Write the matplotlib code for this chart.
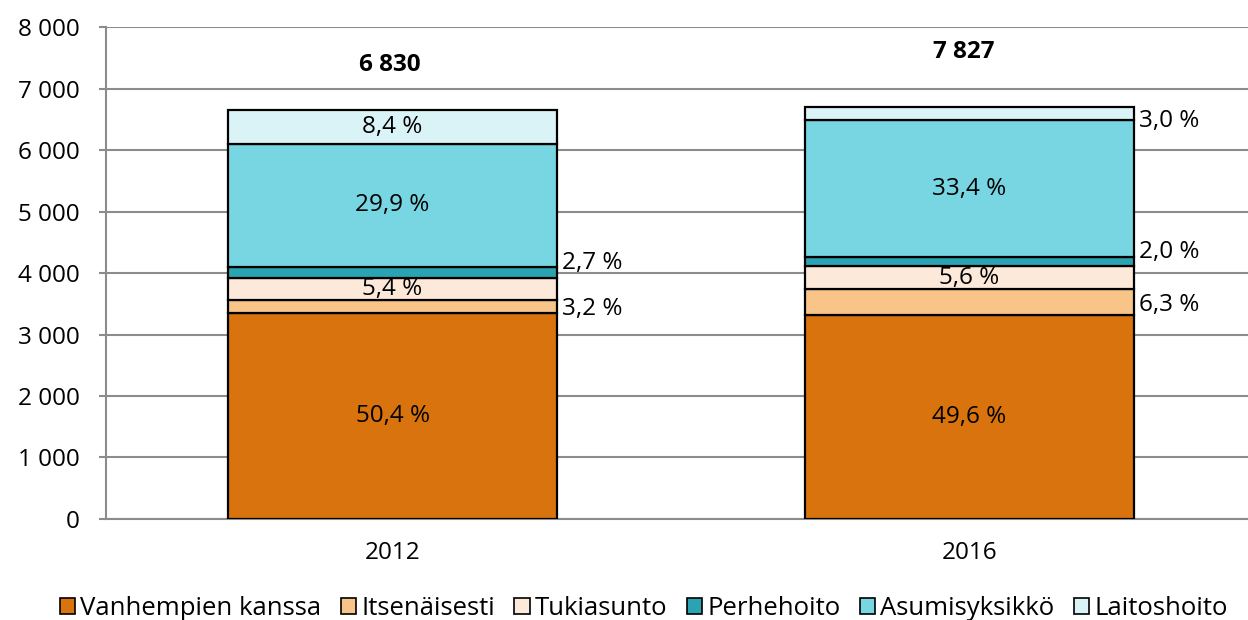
import matplotlib
matplotlib.use("Agg")
import matplotlib.pyplot as plt
from matplotlib.ticker import FuncFormatter, MultipleLocator
from matplotlib.patches import Patch
import numpy as np

plt.rcParams["font.family"] = ["Open Sans", "DejaVu Sans"]

years = ["2012", "2016"]
series = ["Vanhempien kanssa", "Itsenäisesti", "Tukiasunto", "Perhehoito",
          "Asumisyksikkö", "Laitoshoito"]
vanhempien = [3352, 3315]
itsenaisesti = [212, 420]
tukiasunto = [362, 378]
perhehoito = [175, 146]
asumisyksikko = [2000, 2232]
laitoshoito = [549, 210]
pct_2012 = ["50,4 %", "3,2 %", "5,4 %", "2,7 %", "29,9 %", "8,4 %"]
pct_2016 = ["49,6 %", "6,3 %", "5,6 %", "2,0 %", "33,4 %", "3,0 %"]
totals = ["6 830", "7 827"]

colors = ["#D9730D", "#F8C488", "#FDE9D9", "#2AA3B3", "#78D6E3", "#DAF3F6"]
# label placement: True = inside bar, False = right of bar
inside_2012 = [True, False, True, False, True, True]
inside_2016 = [True, False, True, False, True, False]
outer_shift = [0, -40, 0, 150, 0, -120]

data = [vanhempien, itsenaisesti, tukiasunto, perhehoito, asumisyksikko, laitoshoito]

fig = plt.figure(figsize=(12.48, 6.2), dpi=100)
ax = fig.add_axes([0.085, 0.163, 0.915, 0.793])

x = np.arange(len(years))
width = 0.57
fs = 17.5
bottom = np.zeros(len(years))
for i, vals in enumerate(data):
    vals = np.array(vals, dtype=float)
    ax.bar(x, vals, width, bottom=bottom, color=colors[i], edgecolor="black",
           linewidth=1.6, zorder=3)
    for j in range(len(years)):
        lab = [pct_2012, pct_2016][j][i]
        ins = [inside_2012, inside_2016][j][i]
        yc = bottom[j] + vals[j] / 2
        if ins:
            ax.text(x[j], yc, lab, ha="center", va="center", fontsize=fs,
                    zorder=4)
        else:
            ax.text(x[j] + width / 2 + 0.008, yc + outer_shift[i], lab,
                    ha="left", va="center", fontsize=fs, zorder=4)
    bottom += vals

ax.text(-0.005, 7380, totals[0], ha="center", va="center", fontsize=fs,
        fontweight="bold")
ax.text(0.99, 7590, totals[1], ha="center", va="center", fontsize=fs,
        fontweight="bold")

ax.set_xlim(-0.4965, 1.4825)
ax.set_ylim(0, 8000)
ax.yaxis.set_major_locator(MultipleLocator(1000))
ax.yaxis.set_major_formatter(FuncFormatter(lambda v, p: f"{int(v):,}".replace(",", " ")))
ax.set_xticks(x)
ax.set_xticklabels(years)
ax.tick_params(axis="x", length=0, pad=16, labelsize=fs)
ax.tick_params(axis="y", length=5, width=1.5, color="#8C8C8C", pad=14,
               labelsize=fs)
ax.grid(axis="y", color="#8C8C8C", linewidth=1.5, zorder=0)
for s in ["top", "right"]:
    ax.spines[s].set_visible(False)
for s in ["left", "bottom"]:
    ax.spines[s].set_color("#8C8C8C")
    ax.spines[s].set_linewidth(1.5)

handles = [Patch(facecolor=c, edgecolor="black", linewidth=1.2) for c in colors]
fig.legend(handles, series, loc="center", bbox_to_anchor=(0.516, 0.018),
           ncol=6, frameon=False, fontsize=18.5, handlelength=0.6,
           handleheight=0.6, handletextpad=0.2, columnspacing=0.75)

fig.savefig("out.png", dpi=100)
